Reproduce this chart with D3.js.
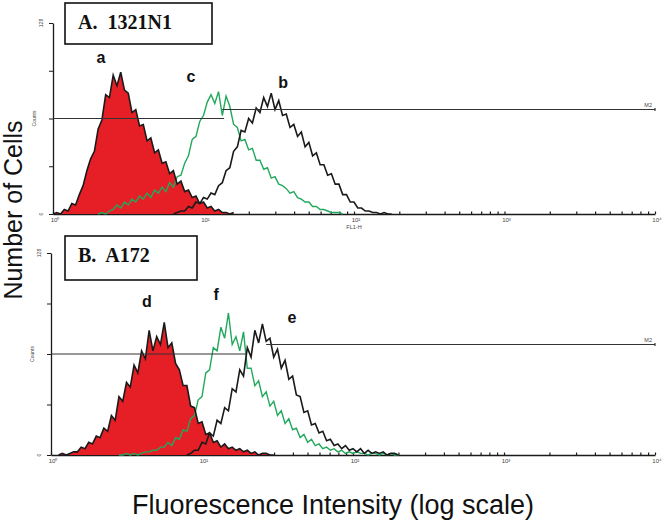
<!DOCTYPE html>
<html>
<head>
<meta charset="utf-8">
<script src="https://cdn.jsdelivr.net/npm/d3@7/dist/d3.min.js"></script>
<style>
body { margin: 0; background: #fff; }
svg { display: block; }
</style>
</head>
<body>
<svg id="chart" width="666" height="522"></svg>
<script>
// histogram channels, 40 channels per decade, counts
var chPerDecade = 40;

// A. 1321N1
var aStart = 0;
var aCounts = [0, 1, 0, 3, 2, 7, 6, 13, 19, 29,
	37, 42, 57, 63, 80, 78, 93, 86, 95, 83,
	81, 68, 70, 59, 60, 49, 51, 41, 43, 34,
	35, 27, 29, 20, 22, 15, 16, 11, 12, 7,
	8, 4, 5, 2, 3, 1, 1, 0, 1];
var cStart = 12;
var cCounts = [0, 1, 0, 2, 3, 6, 4, 8, 6, 10,
	8, 12, 10, 14, 11, 16, 14, 18, 15, 21,
	18, 25, 26, 34, 39, 50, 52, 62, 66, 75,
	80, 74, 82, 66, 79, 72, 60, 58, 49, 50,
	43, 44, 36, 36, 30, 31, 24, 25, 20, 19,
	17, 14, 15, 11, 10, 8, 8, 5, 5, 3,
	3, 2, 1, 1, 1, 0];
var bStart = 32;
var bCounts = [0, 1, 2, 2, 5, 4, 8, 7, 11, 10,
	14, 13, 19, 21, 29, 31, 42, 45, 56, 55,
	64, 61, 71, 68, 78, 72, 81, 70, 76, 66,
	67, 58, 60, 52, 55, 45, 48, 39, 41, 33,
	33, 26, 27, 20, 20, 13, 13, 8, 8, 4,
	4, 2, 2, 1, 1, 0, 1, 0, 0];

// B. A172
var dStart = 2;
var dCounts = [0, 1, 0, 1, 2, 2, 5, 4, 8, 7,
	12, 11, 17, 15, 25, 22, 37, 34, 46, 43,
	57, 52, 66, 61, 79, 66, 75, 70, 84, 68,
	71, 58, 54, 44, 44, 31, 30, 20, 21, 13,
	14, 8, 9, 5, 7, 4, 5, 3, 4, 2,
	3, 1, 2, 0, 1, 1, 0, 0];
var fStart = 18;
var fCounts = [0, 0, 1, 0, 1, 0, 1, 2, 2, 3,
	3, 5, 5, 8, 6, 11, 10, 16, 15, 23,
	25, 35, 37, 52, 54, 68, 66, 81, 74, 90,
	70, 75, 66, 78, 55, 55, 44, 47, 37, 40,
	31, 34, 25, 28, 20, 23, 16, 17, 11, 13,
	8, 10, 6, 7, 4, 5, 3, 4, 2, 3,
	1, 2, 1, 2, 1, 1, 0, 1, 1, 0,
	1, 0, 1, 0, 0];
var eStart = 36;
var eCounts = [0, 1, 3, 3, 8, 7, 14, 12, 22, 20,
	30, 28, 42, 40, 54, 50, 68, 62, 79, 71,
	83, 72, 74, 62, 67, 55, 60, 48, 50, 38,
	37, 27, 28, 19, 20, 14, 15, 9, 10, 6,
	7, 4, 6, 3, 4, 2, 4, 1, 3, 1,
	2, 1, 2, 0, 1, 1, 0];

var decadeLabels = ["10\u2070", "10\u00b9", "10\u00b2", "10\u00b3", "10\u2074"];
var countTicks = [0, 32, 64, 96, 128];
// gate markers: [from, to, height]
var m1Gates = [[1, 13.7, 64], [1, 19.3, 64]];
var m2Gates = [[13.3, 1e4, 70], [26.6, 1e4, 70]];

var red = "#e61f26", green = "#22a85c", ink = "#1a1a1a";

var panels = [
	{title: "A.  1321N1", fill: [aStart, aCounts], green: [cStart, cCounts], black: [bStart, bCounts],
	 m1: m1Gates[0], m2: m2Gates[0], names: ["a", "c", "b"],
	 x0: 53, top: 23, bottom: 214, box: [65, 3, 147, 41], fl: true},
	{title: "B.  A172", fill: [dStart, dCounts], green: [fStart, fCounts], black: [eStart, eCounts],
	 m1: m1Gates[1], m2: m2Gates[1], names: ["d", "f", "e"],
	 x0: 51, top: 253, bottom: 455, box: [65, 236, 132, 44], fl: false}
];
// where the curve letters sit, in data units [intensity, count]
var letterPos = [
	[[2.08, 101], [8.26, 88.5], [33.8, 84.5]],
	[[4.32, 94], [12.4, 98], [39.4, 83.6]]
];

function toPoints(s){
	return s[1].map(function(c, i){ return [Math.pow(10, (s[0] + i) / chPerDecade), c]; });
}

var svg = d3.select("#chart");

panels.forEach(function(p, pi){
	var x = d3.scaleLog().domain([1, 1e4]).range([p.x0, 655]);
	var y = d3.scaleLinear().domain([0, 128]).range([p.bottom, p.top]);
	var g = svg.append("g");

	// y axis
	var ya = g.append("g").attr("transform", "translate(" + p.x0 + ",0)")
		.call(d3.axisLeft(y).tickValues(countTicks).tickSize(4).tickFormat("").tickSizeOuter(0));
	ya.select(".domain").attr("stroke", ink).attr("stroke-width", 1.3);
	ya.selectAll(".tick line").attr("stroke", ink);

	// x axis with log minor ticks
	var xt = [];
	for (var dd = 0; dd < 4; dd++)
		for (var m = 1; m < 10; m++) xt.push(m * Math.pow(10, dd));
	xt.push(1e4);
	var xa = g.append("g").attr("transform", "translate(0," + p.bottom + ")")
		.call(d3.axisBottom(x).tickValues(xt).tickSize(-2.5).tickFormat("").tickSizeOuter(0));
	xa.select(".domain").attr("stroke", ink).attr("stroke-width", 1.3);
	xa.selectAll(".tick line").attr("stroke", ink).attr("stroke-width", 1.2);

	g.selectAll("text.dec").data(decadeLabels).enter().append("text")
		.attr("x", function(d, i){ return x(Math.pow(10, i)) + 2; })
		.attr("y", p.bottom + 8)
		.attr("text-anchor", "middle")
		.attr("font-family", "Liberation Sans, Arial, sans-serif")
		.attr("font-size", 6).attr("fill", "#444")
		.text(function(d){ return d; });
	if (p.fl) {
		g.append("text").attr("x", x(100)).attr("y", p.bottom + 15)
			.attr("text-anchor", "middle")
			.attr("font-family", "Liberation Sans, Arial, sans-serif")
			.attr("font-size", 5.5).attr("fill", "#444").text("FL1-H");
	}

	// small y labels
	var small = [["128", 128, 10], ["Counts", 64, 17], ["0", 0, 10]];
	g.selectAll("text.yl").data(small).enter().append("text")
		.attr("transform", function(d){ return "translate(" + (p.x0 - d[2]) + "," + y(d[1]) + ") rotate(-90)"; })
		.attr("text-anchor", "middle")
		.attr("font-family", "Liberation Sans, Arial, sans-serif")
		.attr("font-size", 5).attr("fill", "#444")
		.text(function(d){ return d[0]; });

	// curves
	var fillPts = toPoints(p.fill), greenPts = toPoints(p.green), blackPts = toPoints(p.black);
	var area = d3.area().x(function(d){ return x(d[0]); }).y0(y(0)).y1(function(d){ return y(d[1]); });
	var line = d3.line().x(function(d){ return x(d[0]); }).y(function(d){ return y(d[1]); });

	g.append("path").attr("d", area(fillPts)).attr("fill", red);
	g.append("path").attr("d", line(greenPts)).attr("fill", "none").attr("stroke", green).attr("stroke-width", 1.4);
	g.append("path").attr("d", line(blackPts)).attr("fill", "none").attr("stroke", ink).attr("stroke-width", 1.6);
	g.append("path").attr("d", line(fillPts)).attr("fill", "none").attr("stroke", ink).attr("stroke-width", 1.6);

	// gate markers
	g.append("line").attr("x1", x(p.m1[0])).attr("x2", x(p.m1[1]))
		.attr("y1", y(p.m1[2])).attr("y2", y(p.m1[2]))
		.attr("stroke", "#333").attr("stroke-width", 1.1);
	g.append("line").attr("x1", x(p.m2[0])).attr("x2", x(p.m2[1]))
		.attr("y1", y(p.m2[2])).attr("y2", y(p.m2[2]))
		.attr("stroke", "#333").attr("stroke-width", 1.1);
	g.append("line").attr("x1", x(p.m2[1])).attr("x2", x(p.m2[1]))
		.attr("y1", y(p.m2[2]) - 1.5).attr("y2", y(p.m2[2]) + 1.5)
		.attr("stroke", "#333").attr("stroke-width", 1.2);
	g.append("text").attr("x", x(p.m2[1]) - 3).attr("y", y(p.m2[2]) - 2.5)
		.attr("text-anchor", "end")
		.attr("font-family", "Liberation Sans, Arial, sans-serif")
		.attr("font-size", 5.5).attr("fill", "#444").text("M2");

	// curve letters
	g.selectAll("text.nm").data(p.names).enter().append("text")
		.attr("x", function(d, i){ return x(letterPos[pi][i][0]); })
		.attr("y", function(d, i){ return y(letterPos[pi][i][1]); })
		.attr("text-anchor", "middle")
		.attr("font-family", "Liberation Sans, Arial, sans-serif")
		.attr("font-weight", "bold").attr("font-size", 16).attr("fill", "#111")
		.text(function(d){ return d; });

	// title box
	g.append("rect").attr("x", p.box[0]).attr("y", p.box[1]).attr("width", p.box[2]).attr("height", p.box[3])
		.attr("fill", "#fff").attr("stroke", "#111").attr("stroke-width", 1.6);
	g.append("text").attr("x", p.box[0] + 13).attr("y", p.box[1] + 26)
		.attr("font-family", "Liberation Serif, Times New Roman, serif")
		.attr("font-weight", "bold").attr("font-size", 20).attr("fill", "#111")
		.attr("xml:space", "preserve").style("white-space", "pre")
		.text(p.title);
});

svg.append("text").attr("transform", "translate(22,210) rotate(-90)")
	.attr("text-anchor", "middle")
	.attr("font-family", "Liberation Sans, Arial, sans-serif")
	.attr("font-size", 25).attr("fill", "#111")
	.text("Number of Cells");
svg.append("text").attr("x", 333).attr("y", 514)
	.attr("text-anchor", "middle")
	.attr("font-family", "Liberation Sans, Arial, sans-serif")
	.attr("font-size", 27).attr("fill", "#111")
	.text("Fluorescence Intensity (log scale)");
</script>
</body>
</html>
